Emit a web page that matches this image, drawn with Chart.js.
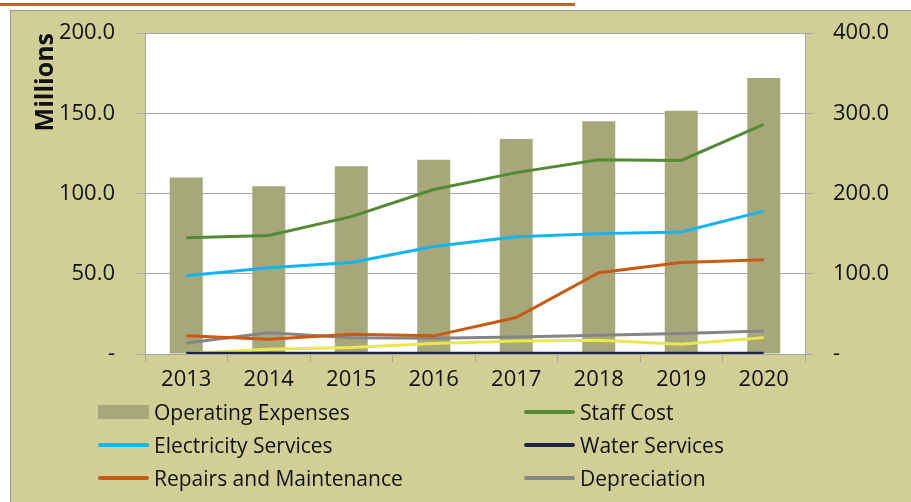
<!DOCTYPE html>
<html>
<head>
<meta charset="utf-8">
<script src="https://cdn.jsdelivr.net/npm/chart.js@4/dist/chart.umd.min.js"></script>
<style>
  body { margin: 0; background: #fff; width: 911px; height: 502px; overflow: hidden; position: relative; font-family: "Open Sans", sans-serif; }
  #topline { position: absolute; left: 0; top: 3px; width: 575px; height: 3px; background: #c0632b; }
  #frame { position: absolute; left: 10px; top: 10px; width: 911px; height: 502px; background: #d1cf96; border: 1px solid #9a9a9a; }
  #wrap { position: absolute; left: 0; top: 0; width: 901px; height: 390px; }
  #legend { position: absolute; left: 87px; top: 384px; display: grid; grid-template-columns: 426px 300px; row-gap: 0; font-size: 21px; color: #111; }
  .item { display: flex; align-items: center; height: 33px; }
  .sw { width: 51px; margin-right: 5px; }
</style>
</head>
<body>
<div id="topline"></div>
<div id="frame">
  <div id="wrap"><canvas id="chart"></canvas></div>
  <div id="legend"></div>
</div>
<script>
// valores del gráfico
const years = ['2013', '2014', '2015', '2016', '2017', '2018', '2019', '2020'];
const operatingExpenses = [220, 209, 234, 242, 268, 290, 303, 344];   // eje derecho
const staffCost = [72.5, 73.8, 85.6, 102.5, 113, 121, 120.6, 143];
const electricity = [48.8, 53.8, 57, 67, 73, 75, 76, 89];
const water = [0.5, 0.5, 0.5, 0.5, 0.5, 0.5, 0.5, 0.5];
const repairs = [11.3, 9.2, 12.3, 11.3, 22.7, 50.6, 57, 58.8];
const depreciation = [6.9, 13.3, 10.2, 9.8, 10.6, 11.7, 12.7, 14.4];
const other = [0.3, 2.9, 4, 6.5, 8.1, 8.5, 6, 10.2];
const leftTicks = [0, 50, 100, 150, 200];
const rightTicks = [0, 100, 200, 300, 400];

const gridGray = '#a6a6a6';
const tickFont = { size: 22, family: '"Open Sans", sans-serif' };

function fmt(v) {
  return v === 0 ? '-' : v.toFixed(1);
}

// fondo blanco del área de trazado
const plotBg = {
  id: 'plotBg',
  beforeDraw(chart) {
    const a = chart.chartArea;
    const ctx = chart.ctx;
    ctx.save();
    ctx.fillStyle = '#ffffff';
    ctx.fillRect(a.left, a.top, a.right - a.left, a.bottom - a.top);
    ctx.restore();
  }
};

function line(label, data, color, show) {
  return {
    type: 'line', label: label, data: data, yAxisID: 'y',
    borderColor: color, backgroundColor: color, borderWidth: 3,
    pointRadius: 0, tension: 0, order: 1, showInLegend: show
  };
}

const chart = new Chart(document.getElementById('chart'), {
  type: 'bar',
  data: {
    labels: years,
    datasets: [
      { type: 'bar', label: 'Operating Expenses', data: operatingExpenses, yAxisID: 'y2',
        backgroundColor: '#a7a87a', barPercentage: 0.4, categoryPercentage: 1, order: 2, showInLegend: true },
      line('Staff Cost', staffCost, '#548a34', true),
      line('Electricity Services', electricity, '#14b4ef', true),
      line('Water Services', water, '#1c2541', true),
      line('Repairs and Maintenance', repairs, '#c95a14', true),
      line('Depreciation', depreciation, '#858585', true),
      line('Other', other, '#ebe84e', false)
    ]
  },
  options: {
    responsive: true,
    maintainAspectRatio: false,
    animation: false,
    layout: { padding: { top: 22, left: 0, right: 0, bottom: 0 } },
    plugins: { legend: { display: false }, tooltip: { enabled: false } },
    scales: {
      x: {
        offset: true,
        grid: { offset: true, color: 'transparent', tickColor: gridGray, tickLength: 8 },
        border: { color: gridGray, width: 1 },
        ticks: { color: '#111', font: tickFont, padding: 5 },
        afterFit(s) { s.height = 47; }
      },
      y: {
        position: 'left', min: 0, max: 200,
        afterBuildTicks(s) { s.ticks = leftTicks.map(v => ({ value: v })); },
        grid: { color: gridGray, tickColor: gridGray, tickLength: 8 },
        border: { color: gridGray },
        ticks: { color: '#111', font: tickFont, padding: 22, callback: fmt },
        title: { display: true, text: 'Millions', align: 'end', color: '#111',
                 font: { size: 25, weight: 'bold', family: '"Open Sans", sans-serif' }, padding: { top: 20 } },
        afterFit(s) { s.width = 134; s.paddingTop = 0; s.paddingBottom = 0; }
      },
      y2: {
        position: 'right', min: 0, max: 400,
        afterBuildTicks(s) { s.ticks = rightTicks.map(v => ({ value: v })); },
        grid: { drawOnChartArea: false, tickColor: gridGray, tickLength: 8 },
        border: { color: gridGray },
        ticks: { color: '#111', font: tickFont, padding: 20, callback: fmt },
        afterFit(s) { s.width = 107; s.paddingTop = 0; s.paddingBottom = 0; }
      }
    }
  },
  plugins: [plotBg]
});

// leyenda en dos columnas
const legend = document.getElementById('legend');
chart.data.datasets.filter(d => d.showInLegend).forEach(d => {
  const item = document.createElement('div');
  item.className = 'item';
  const sw = document.createElement('span');
  sw.className = 'sw';
  if (d.type === 'bar') {
    sw.style.height = '14px';
    sw.style.background = d.backgroundColor;
  } else {
    sw.style.height = '4px';
    sw.style.background = d.borderColor;
    sw.style.borderRadius = '2px';
  }
  const txt = document.createElement('span');
  txt.textContent = d.label;
  item.appendChild(sw);
  item.appendChild(txt);
  legend.appendChild(item);
});
</script>
</body>
</html>
